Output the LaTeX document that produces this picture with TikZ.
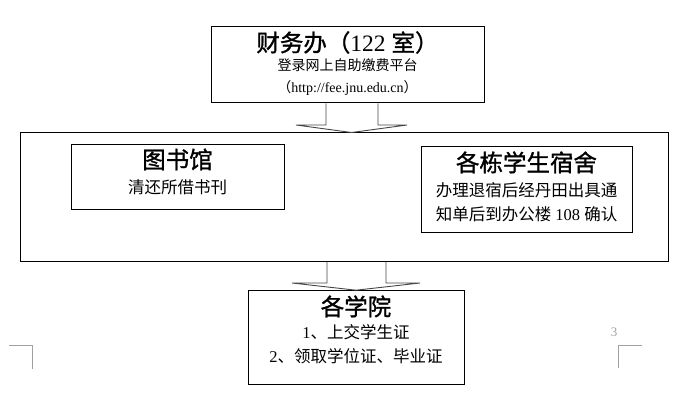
\documentclass[tikz,border=0pt]{standalone}
\usepackage{fontspec}
\setmainfont{Liberation Serif}
\newfontfamily\cjk{Noto Sans CJK SC}
\newfontfamily\cjkhead{Noto Sans CJK SC}[FakeBold=1.2]
\usetikzlibrary{calc}
\definecolor{arrowgrey}{RGB}{70,70,70}
\definecolor{markgrey}{RGB}{160,160,160}
\newcommand{\headsize}{\fontsize{23.5}{28}\selectfont}
\newcommand{\bodysize}{\fontsize{16.5}{20}\selectfont}
\newcommand{\smallsize}{\fontsize{14}{17}\selectfont}

\begin{document}
\begin{tikzpicture}[x=1pt, y=-1pt,
    officebox/.style={rectangle, draw=black, line width=1pt, inner sep=0pt},
    headtext/.style={inner sep=0pt, text height=20.7pt, text depth=2.8pt, font=\headsize\cjkhead},
    bodytext/.style={inner sep=0pt, text height=14.5pt, text depth=2pt, font=\bodysize\cjk},
    smalltext/.style={inner sep=0pt, text height=12.3pt, text depth=1.7pt, font=\smallsize\cjk},
    blockarr/.style={draw=arrowgrey, line width=0.9pt, line join=miter},
    cropmark/.style={draw=markgrey, line width=0.8pt}
]
\useasboundingbox (0,0) rectangle (691,398);

% boxes
\node[officebox, minimum width=273, minimum height=76.5]   (fin)  at (347.5,64.75)   {};
\node[officebox, minimum width=647.3, minimum height=128.5] (camp) at (344.35,197.25) {};
\node[officebox, minimum width=213, minimum height=65]     (lib)  at (177.5,177.5)   {};
\node[officebox, minimum width=211, minimum height=86]     (dorm) at (526.5,190)     {};
\node[officebox, minimum width=216, minimum height=93.6]   (coll) at (356,337.5)     {};

% texts
\node[headtext]  (finT) at ($(fin.north)+(0,16.5)$) {财务办（{\rmfamily 122 }室）};
\node[smalltext] (finS) at ($(fin.north)+(0,39.5)$) {登录网上自助缴费平台};
\node[smalltext] (finU) at ($(fin.north)+(0,61.5)$) {（{\rmfamily http://fee.jnu.edu.cn}）};

\node[headtext] (libT) at ($(lib.north)+(0,15)$) {图书馆};
\node[bodytext] (libS) at ($(lib.north)+(0,43)$) {清还所借书刊};

\node[headtext] (dormT) at ($(dorm.north)+(0,16)$) {各栋学生宿舍};
\node[bodytext] (dormA) at ($(dorm.north)+(0,44)$) {办理退宿后经丹田出具通};
\node[bodytext] (dormB) at ($(dorm.north)+(0,68)$) {知单后到办公楼{\rmfamily\ 108 }确认};

\node[headtext] (collT) at ($(coll.north)+(0,16.3)$) {各学院};
\node[bodytext] (collA) at ($(coll.north)+(0,42.3)$) {{\rmfamily 1}、上交学生证};
\node[bodytext] (collB) at ($(coll.north)+(0,66.3)$) {{\rmfamily 2}、领取学位证、毕业证};

% block arrows
\draw[blockarr] (326,0 |- fin.south) -- (326,125) -- (296,125) -- (351.5,0 |- camp.north)
    -- (407,125) -- (378,125) -- (378,0 |- fin.south);
\draw[blockarr] (327,0 |- camp.south) -- (327,283) -- (292,283) -- (356,0 |- coll.north)
    -- (420,283) -- (386,283) -- (386,0 |- camp.south);

% page marks
\draw[cropmark] (9,345) -- (32,345) -- (32,369);
\draw[cropmark] (641.7,345.7) -- (618,345.7) -- (618,368);
\node[font=\fontsize{13}{14}\selectfont, text=markgrey, inner sep=0pt] (pagenum) at (614,332) {3};
\end{tikzpicture}
\end{document}
